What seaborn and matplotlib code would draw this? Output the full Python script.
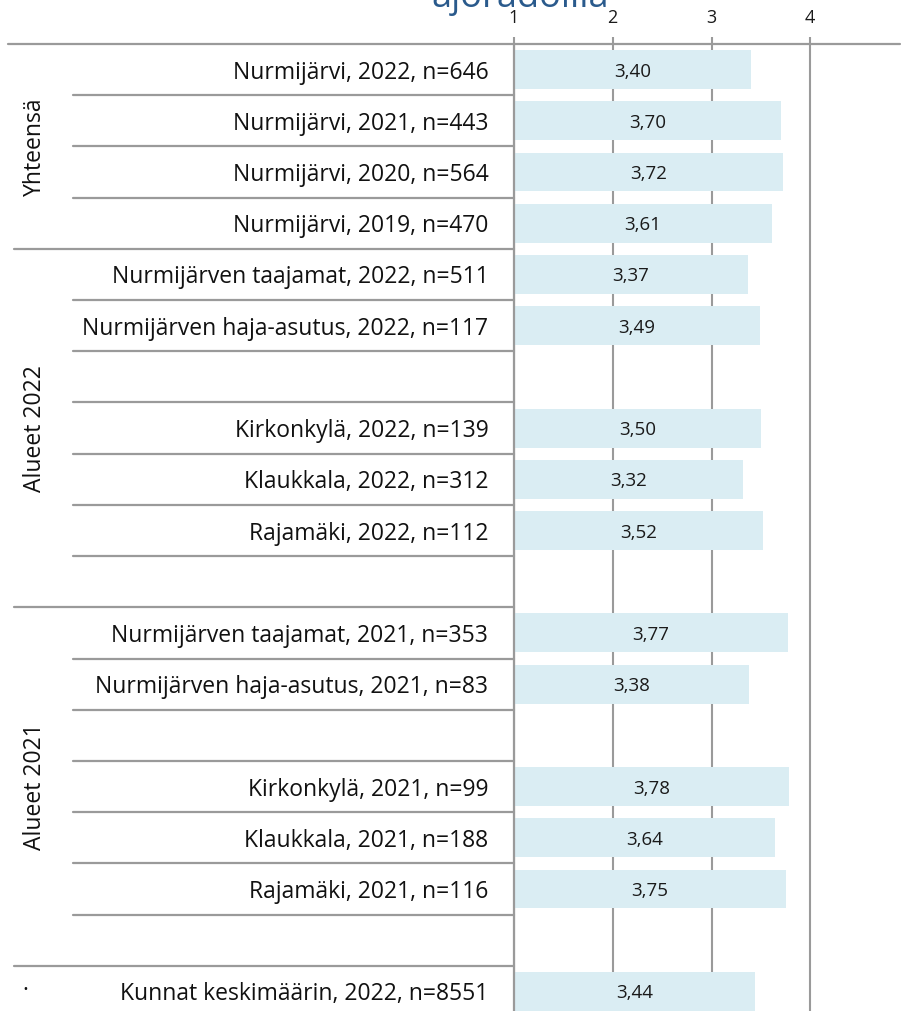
import matplotlib
matplotlib.use("Agg")

import matplotlib.pyplot as plt
import matplotlib.transforms as mtrans
import pandas as pd
import seaborn as sns


# Rows that carry a bar, top to bottom.
labels = [
    "Nurmijärvi, 2022, n=646",
    "Nurmijärvi, 2021, n=443",
    "Nurmijärvi, 2020, n=564",
    "Nurmijärvi, 2019, n=470",
    "Nurmijärven taajamat, 2022, n=511",
    "Nurmijärven haja-asutus, 2022, n=117",
    "Kirkonkylä, 2022, n=139",
    "Klaukkala, 2022, n=312",
    "Rajamäki, 2022, n=112",
    "Nurmijärven taajamat, 2021, n=353",
    "Nurmijärven haja-asutus, 2021, n=83",
    "Kirkonkylä, 2021, n=99",
    "Klaukkala, 2021, n=188",
    "Rajamäki, 2021, n=116",
    "Kunnat keskimäärin, 2022, n=8551",
]
values = [3.40, 3.70, 3.72, 3.61, 3.37, 3.49, 3.50, 3.32, 3.52,
          3.77, 3.38, 3.78, 3.64, 3.75, 3.44]

# Empty spacer rows are inserted after these labels.
spacers_after = [
    "Nurmijärven haja-asutus, 2022, n=117",
    "Rajamäki, 2022, n=112",
    "Nurmijärven haja-asutus, 2021, n=83",
    "Rajamäki, 2021, n=116",
]

# Group names and how many rows (spacers included) each one spans.
groups = ["Yhteensä", "Alueet 2022", "Alueet 2021", "·"]
group_sizes = [4, 7, 7, 1]

x_ticks = [1, 2, 3, 4]
title = "ajoradoilla"

BAR = "#daedf3"
GREY = "#9a9a9a"
W, H = 901, 1011


def main() -> None:
    sns.set_theme(style="white")
    plt.rcParams["font.family"] = ["Open Sans", "DejaVu Sans"]

    # Build the row order with unique blank names for the spacer rows.
    order = []
    n_blank = 0
    for lab in labels:
        order.append(lab)
        if lab in spacers_after:
            n_blank += 1
            order.append(" " * n_blank)

    df = pd.DataFrame({"label": labels, "value": values})

    fig = plt.figure(figsize=(W / 100, H / 100), dpi=100)
    ax = fig.add_axes([514 / W, -6 / H, 395 / W, 973 / H])

    sns.barplot(data=df, x="value", y="label", order=order, orient="h",
                color=BAR, saturation=1, width=0.76, linewidth=0, ax=ax)

    ax.set_xlim(1, 5)
    ax.set_ylim(len(order) - 0.5, -0.5)
    ax.set_xlabel("")
    ax.set_ylabel("")

    # Value labels in the middle of each visible bar.
    for lab, v in zip(labels, values):
        i = order.index(lab)
        ax.text((1 + v) / 2, i + 0.04, f"{v:.2f}".replace(".", ","),
                ha="center", va="center", fontsize=13.5, color="#1a1a1a")

    # Axes styling: scale on top, grey gridlines behind bars.
    ax.set_xticks(x_ticks)
    ax.set_xticklabels([str(t) for t in x_ticks])
    ax.xaxis.tick_top()
    ax.tick_params(axis="x", top=True, bottom=False, labeltop=True,
                   labelbottom=False, length=5, width=1.5, color=GREY,
                   pad=7, labelsize=13, labelcolor="#1a1a1a")
    ax.tick_params(axis="y", left=False, length=0, pad=18.5,
                   labelsize=16.5, labelcolor="#111111")
    ax.xaxis.grid(True, color=GREY, linewidth=1.5)
    ax.yaxis.grid(False)
    ax.set_axisbelow(True)
    for side in ["top", "right", "bottom"]:
        ax.spines[side].set_visible(False)
    ax.spines["left"].set_color(GREY)
    ax.spines["left"].set_linewidth(1.6)

    # Separator lines in the label area.
    trans = mtrans.blended_transform_factory(fig.transFigure, ax.transData)
    ax.plot([8 / W, 900 / W], [-0.5, -0.5], transform=trans, color=GREY,
            linewidth=1.6, clip_on=False)
    bounds = []
    start = 0
    for size in group_sizes:
        bounds.append(start + size)
        start += size
    for k in range(1, len(order)):
        x0 = 14 if k in bounds else 73
        ax.plot([x0 / W, 514 / W], [k - 0.5, k - 0.5], transform=trans,
                color=GREY, linewidth=1.6, clip_on=False)

    # Rotated group labels.
    start = 0
    for name, size in zip(groups, group_sizes):
        mid = start + (size - 1) / 2
        ax.text(35 / W if name != "·" else 25 / W, mid, name,
                transform=trans, rotation=90 if name != "·" else 0,
                ha="center", va="center", fontsize=16.5, color="#111111")
        start += size

    # Title, mostly cut off by the top edge as in the source image.
    fig.text(520 / W, 1 - 7 / H, title, ha="center", va="baseline",
             fontsize=26, color="#2a5a8c")

    fig.savefig("out.png", dpi=100)
    plt.close(fig)


if __name__ == "__main__":
    main()
